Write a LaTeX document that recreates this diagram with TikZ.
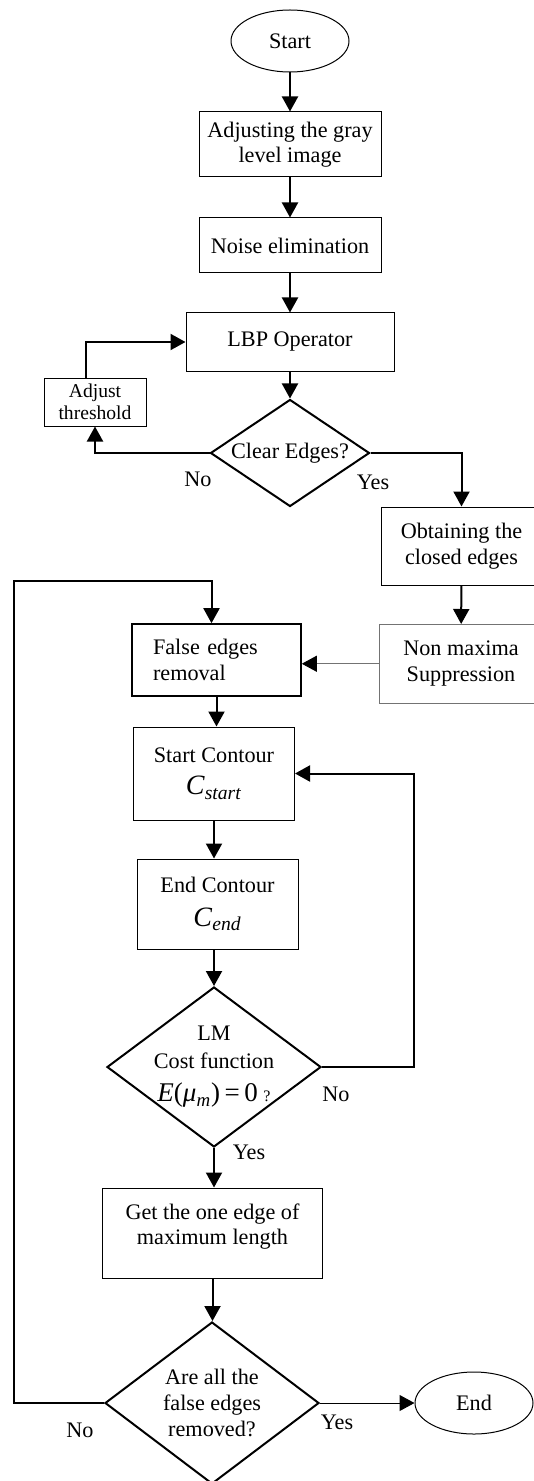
\documentclass[tikz,border=0pt]{standalone}
\usepackage{fontspec}
\setmainfont{Liberation Serif}
\usetikzlibrary{shapes.geometric}
\usetikzlibrary{arrows.meta}

\begin{document}
\begin{tikzpicture}
[every node/.style={font=\fontsize{11.1}{12.8}\selectfont,inner sep=0pt,align=center},x=0.5pt,y=-0.5pt,
proc/.style={draw,rectangle,line width=0.5pt},
term/.style={draw,ellipse,line width=0.5pt,minimum width=59pt,minimum height=31pt},
decide/.style={draw,diamond,line width=1pt,inner xsep=-2pt,inner ysep=-5pt},
flow/.style={line width=1pt,-{Triangle[length=7.5pt,width=8pt]}},
thin flow/.style={line width=0.5pt,-{Triangle[length=7.5pt,width=8pt,color=black]}}]

\clip (0,0) rectangle (534,1481);

%main column
\node[term] (Start) at (290,41) {Start};
\node[proc,minimum width=91pt,minimum height=32.5pt] (Gray) at (290,144.5) {Adjusting the gray\\level image};
\node[proc,minimum width=91pt,minimum height=27.5pt] (Noise) at (290,245.5) {Noise elimination};
\node[proc,minimum width=104pt,minimum height=29pt] (LBP) at (290,342) {LBP Operator};
\node[proc,minimum width=51pt,minimum height=24pt,font=\fontsize{9.8}{11}\selectfont] (Thresh) at (95,402) {Adjust\\threshold};
\node[decide,aspect=1.49,minimum width=79.5pt,minimum height=53.5pt] (Clear) at (290,453) {Clear Edges?};
\node[proc,minimum width=80pt,minimum height=39pt] (Closed) at (461.5,546) {Obtaining the\\closed edges};
\node[proc,draw=black!55,minimum width=82pt,minimum height=39.25pt] (NonMax) at (461,663.75) {Non maxima\\Suppression};
\node[proc,line width=0.8pt,text width=63.5pt,align=left,inner xsep=10.5pt,minimum height=36pt] (FalseE) at (216.5,660) {False edges\\removal};

%contour loop
\node[proc,minimum width=80.5pt,minimum height=46.5pt] (StartC) at (214,773.5) {Start Contour\\[3.5pt]{\fontsize{14}{16}\selectfont\textit{C}\textsubscript{\textit{start}}}};
\node[proc,minimum width=80.5pt,minimum height=45pt] (EndC) at (217.5,904) {End Contour\\[4pt]{\fontsize{14}{16}\selectfont\textit{C}\textsubscript{\textit{end}}}};
\node[decide,aspect=1.34,minimum width=107pt,minimum height=80pt] (Cost) at (214,1067) {LM\\[1pt]Cost function\\[4pt]{\fontsize{13.5}{16}\selectfont\textit{E}(\textit{μ}\textsubscript{\textit{m}})\,=\,0}\ {\footnotesize ?}};
\node[proc,minimum width=110pt,minimum height=45pt] (MaxLen) at (212.5,1233) {Get the one edge of\\maximum length\\[-4pt]\mbox{}};
\node[decide,aspect=1.32,minimum width=107pt,minimum height=81pt] (AllRemoved) at (212,1403) {Are all the\\false edges\\removed?};
\node[term] (End) at (474,1403) {End};

%labels
\node (NoClear) at (198,479) {No};
\node (YesClear) at (373,482) {Yes};
\node (NoCost) at (336,1094) {No};
\node (YesCost) at (249,1152) {Yes};
\node (NoAll) at (80,1430) {No};
\node (YesAll) at (337,1422) {Yes};

\coordinate (CostBack) at (414,1067);
\coordinate (OuterTop) at (14.4,581);

\path[flow] (Start) edge (Gray)
	(Gray) edge (Noise)
	(Noise) edge (LBP)
	(LBP) edge (Clear)
	(Closed) edge (NonMax);
\draw[flow] (Clear.west) -| (Thresh.south);
\draw[flow] ([xshift=-4.5pt]Thresh.north) |- (LBP.west);
\draw[flow] (Clear.east) -| (Closed.north);
\draw[thin flow,draw=black!55] (NonMax.west) -- (NonMax.west -| FalseE.east);
\draw[flow] (FalseE.south) -- (FalseE.south |- StartC.north);
\draw[flow] (StartC.south) -- (StartC.south |- EndC.north);
\draw[flow] (Cost.north |- EndC.south) -- (Cost.north);
\draw[flow] (Cost.east) -- (CostBack) |- (StartC.east);
\draw[flow] (Cost.south) -- (Cost.south |- MaxLen.north);
\draw[flow] (MaxLen.south) -- (MaxLen.south |- AllRemoved.north);
\draw[flow] (AllRemoved.west) -| (OuterTop) -| ([xshift=-2.5pt]FalseE.north);
\draw[thin flow] (AllRemoved.east) -- (End.west);

%			(Cost) edge (StartC);
\end{tikzpicture}
\end{document}
